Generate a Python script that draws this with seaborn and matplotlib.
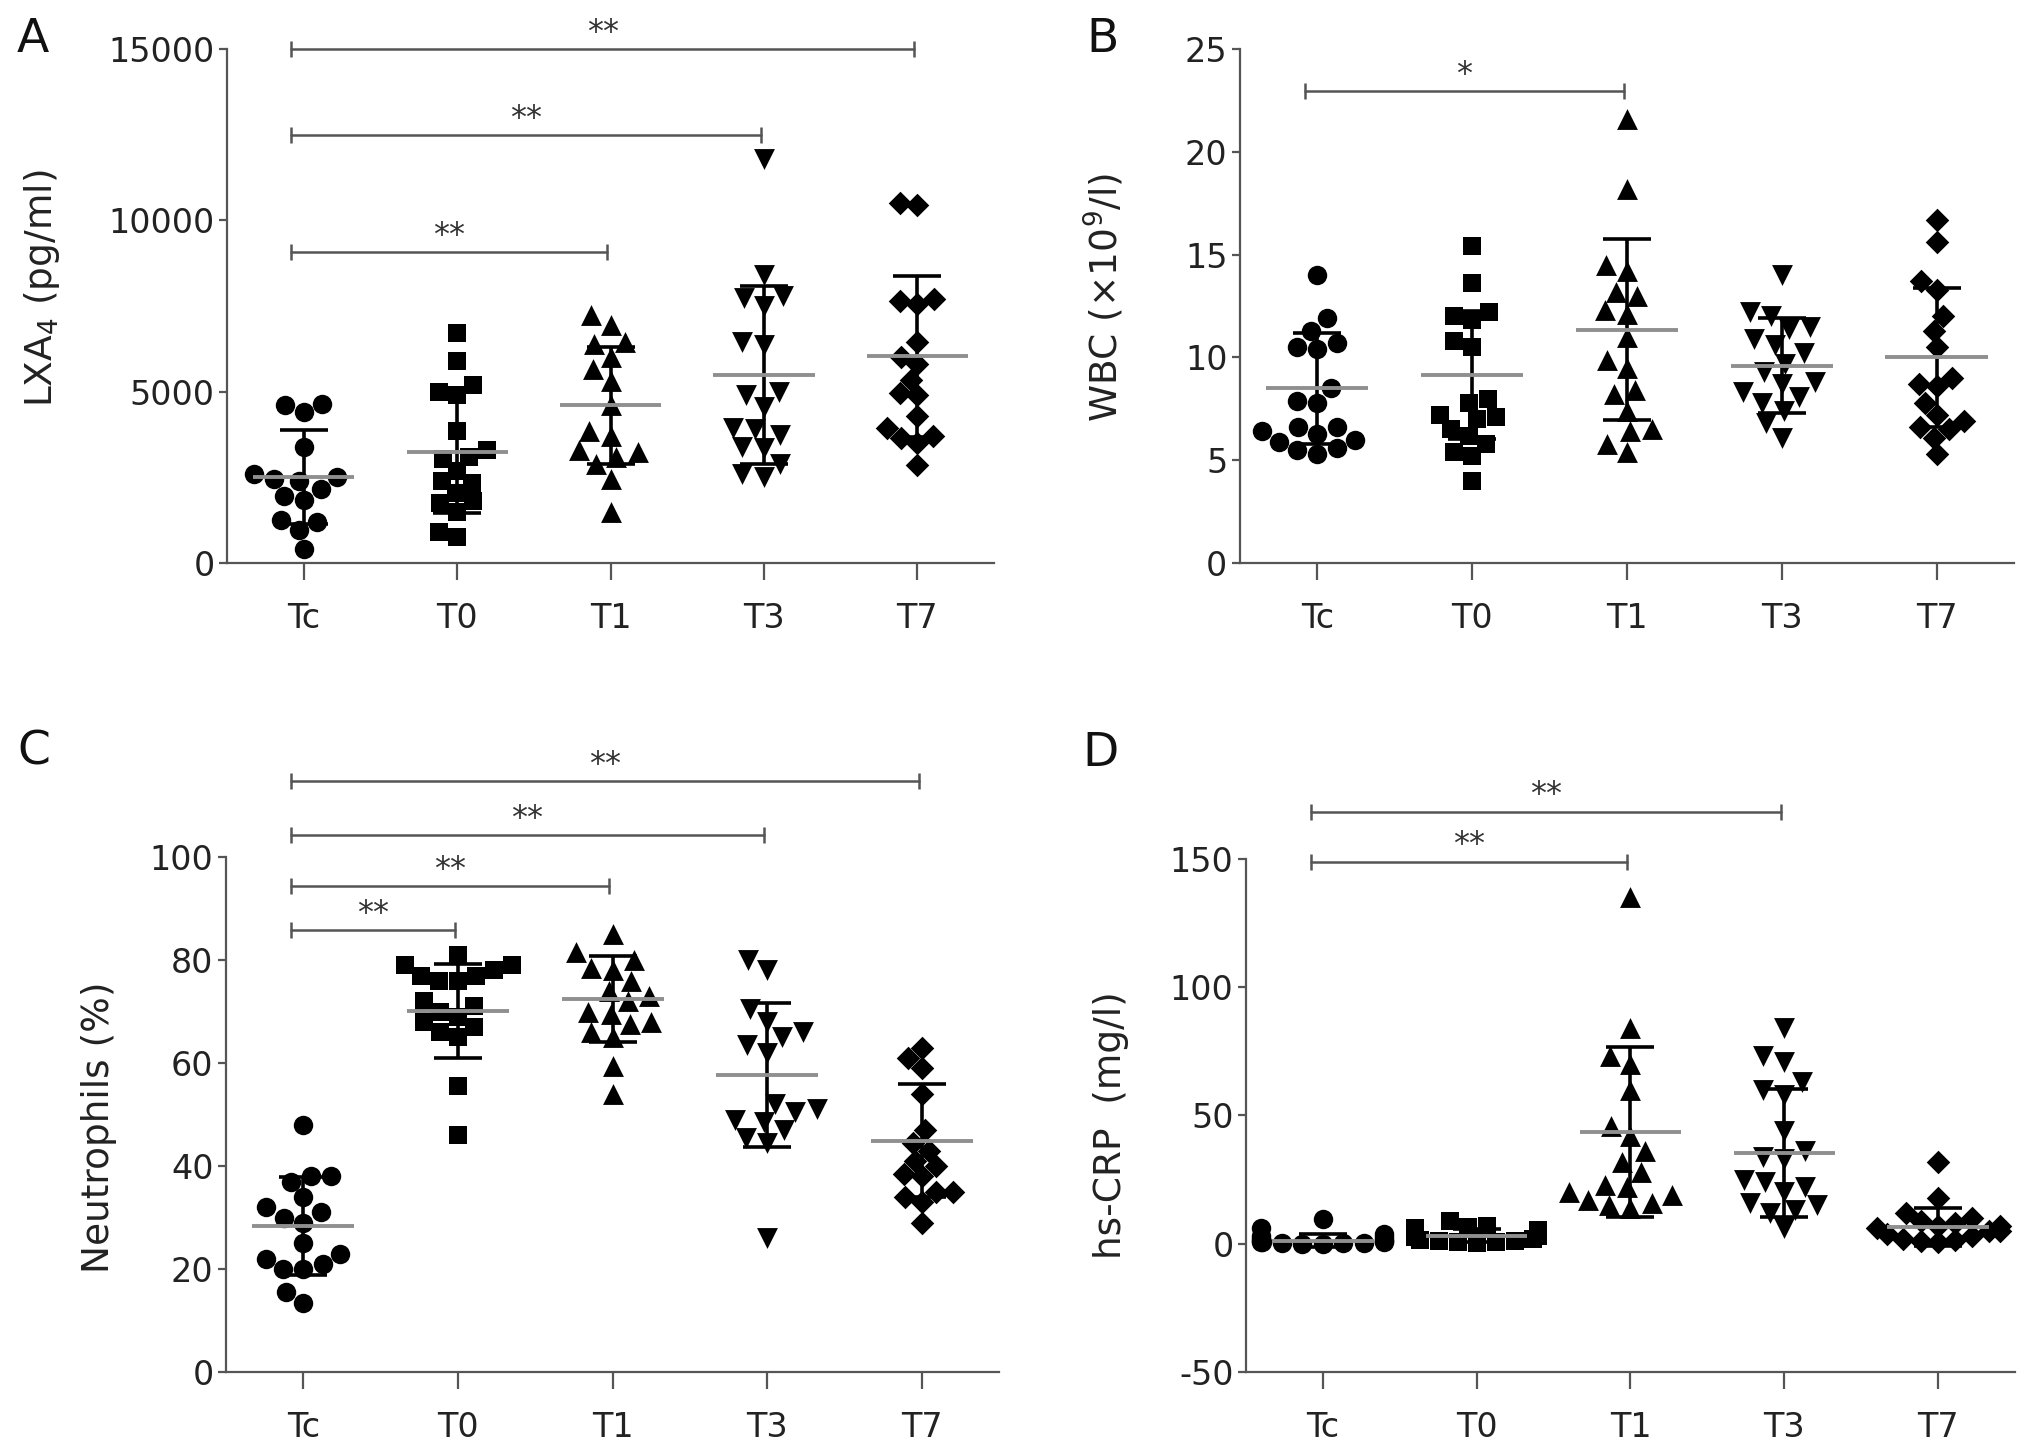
import numpy as np
import matplotlib
matplotlib.use("Agg")
import matplotlib.pyplot as plt
import seaborn as sns

sns.set_theme(style="white")
plt.rcParams['font.family'] = ['DejaVu Sans']
plt.rcParams['mathtext.fontset'] = 'dejavusans'

groups = ["Tc", "T0", "T1", "T3", "T7"]
markers = ["o", "s", "^", "v", "D"]
marker_sizes = [14, 13, 15, 15, 12]

# ---- Panel A: LXA4 (pg/ml)
lxa4_tc = [4650, 4600, 4400, 3400, 2600, 2500, 2450, 2400, 2150, 1950, 1850, 1250, 1200, 950, 400]
lxa4_t0 = [6700, 5900, 5200, 5000, 4900, 3850, 3300, 3100, 3050, 2700, 2400, 2350, 2050, 1800, 1750, 1500, 900, 750]
lxa4_t1 = [7250, 6950, 6450, 6400, 6000, 5650, 5300, 4600, 3850, 3700, 3300, 3250, 3100, 2900, 2450, 1500]
lxa4_t3 = [11800, 8400, 7800, 7750, 7500, 6450, 6350, 5000, 4900, 4550, 3950, 3900, 3750, 3400, 3350, 2900, 2600, 2500]
lxa4_t7 = [10500, 10450, 7700, 7650, 7550, 6450, 6000, 5800, 5350, 4950, 4900, 4300, 3950, 3700, 3650, 3500, 2850]
lxa4_mean = [2500, 3250, 4600, 5490, 6040]
lxa4_sd = [1370, 1800, 1710, 2590, 2350]
lxa4_sig = [(0, 4, 15000, "**"), (0, 3, 12480, "**"), (0, 2, 9080, "**")]

# ---- Panel B: WBC
wbc_tc = [14.0, 11.9, 11.3, 10.7, 10.5, 10.4, 8.5, 7.9, 7.8, 6.6, 6.6, 6.4, 6.3, 6.0, 5.9, 5.6, 5.5, 5.3]
wbc_t0 = [15.4, 13.6, 12.2, 12.0, 11.8, 10.8, 10.5, 8.0, 7.8, 7.2, 7.1, 7.0, 6.5, 6.2, 5.8, 5.4, 5.2, 4.0]
wbc_t1 = [21.6, 18.2, 14.5, 14.2, 13.2, 13.0, 12.3, 12.1, 11.0, 9.9, 9.5, 8.4, 8.2, 7.4, 6.5, 6.4, 5.8, 5.4]
wbc_t3 = [14.0, 12.2, 12.0, 11.5, 11.4, 10.9, 10.6, 10.2, 9.7, 9.3, 8.8, 8.7, 8.3, 8.1, 7.8, 7.4, 6.8, 6.1]
wbc_t7 = [16.7, 15.6, 13.7, 13.3, 12.0, 11.3, 10.5, 9.0, 8.7, 8.6, 7.8, 7.2, 6.9, 6.6, 6.5, 6.1, 5.3]
wbc_mean = [8.5, 9.15, 11.35, 9.6, 10.0]
wbc_sd = [2.7, 3.1, 4.4, 2.3, 3.4]
wbc_sig = [(0, 2, 22.95, "*")]

# ---- Panel C: Neutrophils (%)
neu_tc = [48, 38, 38, 37, 34, 32, 31, 30, 29, 25, 23, 22, 21, 20, 20, 15.5, 13.5]
neu_t0 = [81, 79, 79, 78, 77, 77, 76, 76, 72, 71, 70, 69, 68, 67, 66, 65, 55.5, 46]
neu_t1 = [85, 81.5, 80, 78.5, 78, 76, 74, 73, 72, 70, 69.5, 68, 67.5, 66, 65, 59.5, 54]
neu_t3 = [80, 78, 70.5, 68, 66, 65, 63.5, 62, 52, 51, 50.5, 49, 48.5, 47, 45.5, 44.5, 26]
neu_t7 = [63, 61, 59, 54, 47, 44.5, 43, 41, 40, 38.5, 38, 35, 35, 34, 33, 29]
neu_mean = [28.3, 70.1, 72.4, 57.7, 44.9]
neu_sd = [9.5, 9.2, 8.3, 14.0, 11.0]
neu_sig = [(0, 4, 114.8, "**"), (0, 3, 104.3, "**"), (0, 2, 94.3, "**"), (0, 1, 85.8, "**")]

# ---- Panel D: hs-CRP (mg/l)
crp_tc = [9.5, 6, 4, 3, 2.5, 2, 1.5, 1.2, 1, 0.8, 0.6, 0.5, 0.4, 0.3, 0.2, 0.1, 0.1]
crp_t0 = [9, 7, 6.5, 6, 5.5, 4.5, 4, 3.5, 3, 2.5, 2, 1.5, 1, 1, 0.5, 0.5, 0.3]
crp_t1 = [135, 84, 73, 70, 60, 46, 42, 36, 32, 28, 23, 22, 20, 19, 17, 16, 15, 14]
crp_t3 = [84, 73, 71, 63, 60, 58, 44, 36, 34, 33, 25, 24, 22, 20, 16, 15, 13, 12, 6]
crp_t7 = [32, 18, 12, 10, 9, 8, 7, 7, 6, 5, 5, 4, 3, 2, 1.5, 1, 0.5]
crp_mean = [1.2, 3.1, 43.6, 35.3, 6.5]
crp_sd = [2.5, 2.5, 33.0, 25.0, 7.5]
crp_sig = [(0, 3, 168.5, "**"), (0, 2, 149.0, "**")]

panels = [
    dict(letter="A", data=[lxa4_tc, lxa4_t0, lxa4_t1, lxa4_t3, lxa4_t7], mean=lxa4_mean, sd=lxa4_sd,
         sig=lxa4_sig, ylabel="LXA$_4$ (pg/ml)", ylim=(0, 15000), yticks=[0, 5000, 10000, 15000],
         rect=[0.1118, 0.6090, 0.3776, 0.3569], lab=(-0.215, 0.535), letter_xy=(33, 40)),
    dict(letter="B", data=[wbc_tc, wbc_t0, wbc_t1, wbc_t3, wbc_t7], mean=wbc_mean, sd=wbc_sd,
         sig=wbc_sig, ylabel="WBC (×10$^{9}$/l)", ylim=(0, 25), yticks=[0, 5, 10, 15, 20, 25],
         rect=[0.6105, 0.6090, 0.3811, 0.3569], lab=(-0.147, 0.516), letter_xy=(1103, 40)),
    dict(letter="C", data=[neu_tc, neu_t0, neu_t1, neu_t3, neu_t7], mean=neu_mean, sd=neu_sd,
         sig=neu_sig, ylabel="Neutrophils (%)", ylim=(0, 100), yticks=[0, 20, 40, 60, 80, 100],
         rect=[0.1113, 0.0472, 0.3806, 0.3576], lab=(-0.141, 0.476), letter_xy=(34, 752)),
    dict(letter="D", data=[crp_tc, crp_t0, crp_t1, crp_t3, crp_t7], mean=crp_mean, sd=crp_sd,
         sig=crp_sig, ylabel="hs-CRP  (mg/l)", ylim=(-50, 150), yticks=[-50, 0, 50, 100, 150],
         rect=[0.6135, 0.0472, 0.3786, 0.3563], lab=(-0.152, 0.481), letter_xy=(1101, 754)),
]

W, H = 2031, 1440
fig = plt.figure(figsize=(W / 100, H / 100), dpi=100)
axis_col = "#555555"

for p in panels:
    ax = fig.add_axes(p["rect"])
    for i, vals in enumerate(p["data"]):
        sns.swarmplot(x=[groups[i]] * len(vals), y=vals, order=groups, ax=ax,
                      color="black", marker=markers[i], size=marker_sizes[i],
                      linewidth=0, zorder=3, clip_on=False, warn_thresh=1.0)
    xs = np.arange(len(groups))
    ax.errorbar(xs, p["mean"], yerr=p["sd"], fmt="none", ecolor="black",
                elinewidth=2.6, capsize=17, capthick=2.6, zorder=4, clip_on=False)
    ax.hlines(p["mean"], xs - 0.33, xs + 0.33, colors="#8f8f8f", linewidth=2.8, zorder=5)

    ax.set_xlim(-0.5, 4.5)
    ax.set_ylim(*p["ylim"])
    ax.set_yticks(p["yticks"])
    ax.set_yticklabels([str(t) for t in p["yticks"]])
    ax.set_xticks(xs)
    ax.set_xticklabels(groups)
    ax.set_xlabel("")
    ax.set_ylabel(p["ylabel"], fontsize=27, color="#222222")
    ax.yaxis.set_label_coords(*p["lab"])

    for s in ["top", "right"]:
        ax.spines[s].set_visible(False)
    for s in ["left", "bottom"]:
        ax.spines[s].set_color(axis_col)
        ax.spines[s].set_linewidth(1.6)
    ax.tick_params(axis="y", direction="out", length=6, width=1.6, color=axis_col,
                   labelsize=24, labelcolor="#222222", pad=3, left=True)
    ax.tick_params(axis="x", direction="out", length=12, width=1.6, color=axis_col,
                   labelsize=24, labelcolor="#222222", pad=16, bottom=True)

    for (a, b, yv, lab) in p["sig"]:
        x1 = a - 0.08
        x2 = b - 0.02
        ax.plot([x1, x2], [yv, yv], color=axis_col, linewidth=1.8, clip_on=False,
                marker="|", markersize=11, markeredgewidth=1.8, zorder=6)
        ax.annotate(lab, xy=((x1 + x2) / 2, yv), xytext=(0, 6), textcoords="offset points",
                    ha="center", va="baseline", fontsize=23, color="#333333",
                    annotation_clip=False)

    fig.text(p["letter_xy"][0] / W, 1 - p["letter_xy"][1] / H, p["letter"],
             fontsize=34, ha="center", va="center", color="#111111")

fig.savefig("out.png", dpi=100)
